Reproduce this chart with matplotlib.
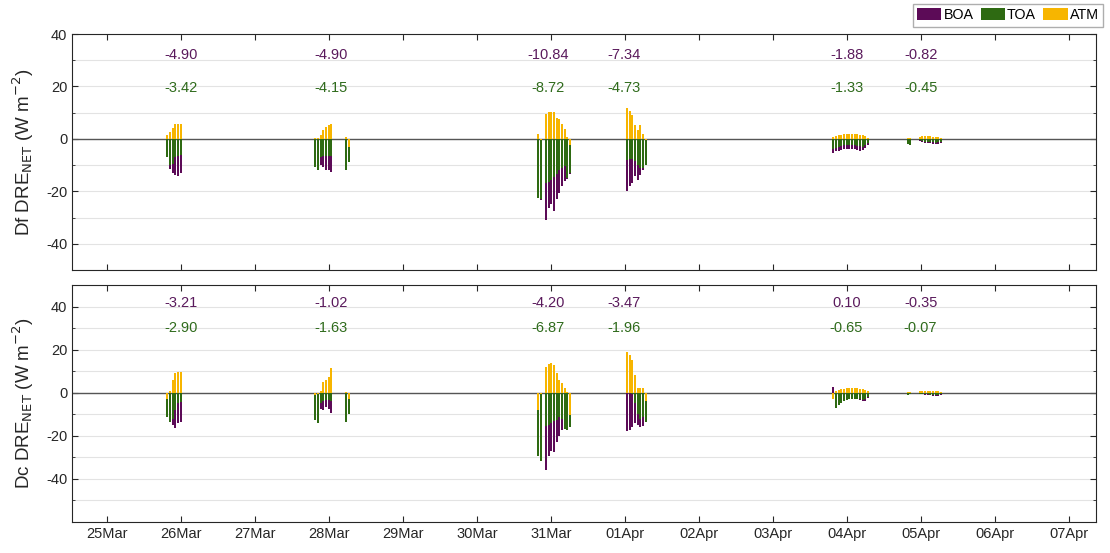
import numpy as np
import matplotlib
matplotlib.use('Agg')
import matplotlib.pyplot as plt
import matplotlib.dates as mdates
from matplotlib.patches import Patch
from matplotlib.ticker import MultipleLocator

plt.rcParams['font.family'] = ['Liberation Sans', 'DejaVu Sans']
plt.rcParams['axes.unicode_minus'] = False

# measurement times, days after 25 Mar 00:00
days = [
    0.815, 0.851, 0.887, 0.923, 0.959, 0.995,                      # 26Mar
    2.811, 2.847, 2.892, 2.923, 2.959, 2.996, 3.032, 3.230, 3.270,  # 28Mar
    5.824, 5.860, 5.932, 5.968, 6.004, 6.040, 6.076, 6.112,
    6.148, 6.184, 6.220, 6.256,                                     # 31Mar
    7.022, 7.058, 7.094, 7.130, 7.166, 7.202, 7.238, 7.274,         # 01Apr
    9.810, 9.846, 9.882, 9.918, 9.954, 9.990, 10.026, 10.062,
    10.098, 10.134, 10.170, 10.206, 10.242, 10.278,                 # 04Apr
    10.815, 10.851, 10.977, 11.013, 11.049, 11.085, 11.121, 11.157,
    11.193, 11.229, 11.265,                                         # 05Apr
]

# Df panel
df_boa = [
    -6.5, -11.5, -13.0, -13.8, -14.0, -13.0,
    -10.0, -11.5, -10.0, -10.6, -11.8, -12.0, -12.5, -11.0, -8.0,
    -21.0, -23.5, -31.0, -26.3, -25.0, -27.5, -23.0, -20.5, -18.0, -16.2, -15.2, -13.5,
    -20.0, -18.1, -16.9, -14.3, -15.6, -13.7, -11.8, -9.5,
    -5.2, -4.8, -4.5, -4.2, -4.0, -4.0, -3.8, -3.8, -4.0, -4.2, -4.5, -4.3, -3.5, -2.2,
    -1.5, -1.8, -0.8, -1.2, -1.4, -1.5, -1.7, -1.9, -2.0, -1.8, -1.4,
]
df_toa = [
    -7.0, -10.0, -9.5, -7.0, -6.5, -6.0,
    -10.6, -11.8, -7.0, -6.5, -6.5, -6.5, -6.5, -11.8, -8.7,
    -22.5, -23.0, -17.0, -16.5, -15.5, -14.5, -13.5, -12.0, -11.0, -10.5, -15.0, -13.0,
    -8.0, -7.5, -7.5, -8.5, -10.0, -11.0, -11.0, -10.0,
    -4.0, -3.5, -3.0, -2.8, -2.5, -2.5, -2.4, -2.4, -2.5, -2.6, -2.8, -3.0, -2.5, -1.5,
    -2.0, -2.2, -0.6, -0.9, -1.0, -1.0, -1.1, -1.3, -1.4, -1.3, -1.0,
]
df_atm = [
    1.5, 2.5, 4.2, 5.5, 5.5, 5.5,
    0.3, 0.2, 1.4, 3.3, 4.5, 5.2, 5.8, 0.8, -3.0,
    2.0, -0.5, 9.6, 10.2, 10.2, 10.4, 7.9, 7.4, 5.8, 3.9, 0.8, -2.4,
    11.7, 10.6, 9.2, 5.2, 3.3, 5.4, 2.0, -0.5,
    0.6, 1.0, 1.4, 1.6, 1.8, 1.8, 1.8, 1.8, 1.8, 1.7, 1.6, 1.4, 1.0, 0.5,
    0.3, 0.2, 0.9, 1.0, 1.0, 1.0, 1.0, 0.9, 0.8, 0.6, 0.4,
]

# Dc panel
dc_boa = [
    -9.0, -13.0, -15.0, -16.6, -14.0, -13.5,
    -11.0, -13.0, -7.4, -8.2, -6.6, -7.4, -9.2, -12.0, -9.0,
    -28.0, -31.5, -35.7, -29.2, -27.2, -27.7, -23.1, -20.0, -17.2, -15.0, -16.0, -14.0,
    -18.0, -17.2, -15.7, -14.2, -15.0, -16.0, -15.5, -11.0,
    2.8, -3.0, -4.0, -4.0, -3.5, -3.0, -2.5, -2.5, -2.5, -3.0, -3.5, -4.0, -3.8, -2.5,
    -0.8, -0.6, -0.5, -0.8, -1.0, -1.2, -1.3, -1.5, -1.6, -1.4, -1.2,
]
dc_toa = [
    -11.2, -13.5, -12.0, -8.0, -5.0, -4.5,
    -12.8, -14.0, -5.0, -4.0, -3.5, -3.5, -4.0, -13.5, -10.0,
    -29.5, -31.8, -15.5, -15.0, -14.0, -13.0, -12.5, -11.5, -12.0, -17.0, -17.5, -15.7,
    1.0, 0.5, -0.5, -5.0, -10.0, -12.0, -11.5, -13.4,
    0.0, -6.9, -5.8, -5.0, -4.0, -3.5, -3.0, -2.8, -2.8, -2.8, -3.0, -3.2, -3.0, -2.0,
    -1.0, -0.8, -0.4, -0.6, -0.7, -0.8, -0.9, -1.0, -1.1, -1.0, -0.8,
]
dc_atm = [
    -2.8, 1.0, 5.7, 9.0, 9.5, 9.5,
    -1.2, -0.5, 1.0, 4.9, 5.7, 7.2, 11.5, 0.5, -3.0,
    -8.0, -0.5, 12.0, 13.5, 13.8, 12.8, 9.0, 5.8, 4.3, 2.0, 0.5, -10.3,
    19.0, 17.4, 15.0, 8.2, 2.0, 2.0, 2.0, -4.0,
    -2.8, 1.0, 1.3, 1.5, 1.8, 2.0, 2.0, 2.0, 2.0, 2.0, 1.8, 1.6, 1.2, 0.6,
    0.2, 0.2, 0.6, 0.8, 0.9, 1.0, 1.0, 0.9, 0.8, 0.6, 0.4,
]

# event means printed above each day
label_days = [1.0, 3.03, 5.96, 6.99, 9.99, 10.99]
df_boa_mean = [-4.90, -4.90, -10.84, -7.34, -1.88, -0.82]
df_toa_mean = [-3.42, -4.15, -8.72, -4.73, -1.33, -0.45]
dc_boa_mean = [-3.21, -1.02, -4.20, -3.47, 0.10, -0.35]
dc_toa_mean = [-2.90, -1.63, -6.87, -1.96, -0.65, -0.07]

c_boa = '#5c0b57'
c_toa = '#2e6a12'
c_atm = '#f7b500'
t_boa = '#5a1a5c'
t_toa = '#2f6b1c'

t0 = mdates.date2num(np.datetime64('2019-03-25T00:00'))
t = t0 + np.array(days)
tl = t0 + np.array(label_days)
w = 0.027

fig = plt.figure(figsize=(11.10, 5.53), dpi=100)
ax1 = fig.add_axes([0.0649, 0.5118, 0.9225, 0.4267])
ax2 = fig.add_axes([0.0649, 0.0561, 0.9225, 0.4286])

panels = [
    (ax1, df_boa, df_toa, df_atm, df_boa_mean, df_toa_mean, (-50, 40), (32, 19.5),
     'Df DRE$_{\\mathrm{NET}}$ (W m$^{\\mathrm{-2}}$)'),
    (ax2, dc_boa, dc_toa, dc_atm, dc_boa_mean, dc_toa_mean, (-60, 50), (41.5, 30),
     'Dc DRE$_{\\mathrm{NET}}$ (W m$^{\\mathrm{-2}}$)'),
]

for ax, boa, toa, atm, mb, mt, ylim, ytxt, ylab in panels:
    ax.bar(t, boa, w, color=c_boa, zorder=3)
    ax.bar(t, toa, w, color=c_toa, zorder=3)
    ax.bar(t, atm, w, color=c_atm, zorder=3)
    ax.axhline(0, color='#555555', lw=1.0, zorder=2)

    for x, vb, vt in zip(tl, mb, mt):
        ax.text(x, ytxt[0], f'{vb:.2f}', ha='center', va='center',
                color=t_boa, fontsize=10.5)
        ax.text(x, ytxt[1], f'{vt:.2f}', ha='center', va='center',
                color=t_toa, fontsize=10.5)

    ax.set_ylim(*ylim)
    ax.set_xlim(t0 - 0.473, t0 + 13.36)
    ax.yaxis.set_minor_locator(MultipleLocator(10))
    ax.set_yticks([-40, -20, 0, 20, 40])
    ax.xaxis.set_major_locator(mdates.DayLocator())
    ax.xaxis.set_major_formatter(mdates.DateFormatter('%d%b'))
    ax.grid(True, which='both', axis='y', color='#e3e3e3', lw=0.8, zorder=0)
    ax.tick_params(which='both', direction='in', top=True, right=True,
                   labelsize=10.5, colors='#262626', length=4)
    ax.tick_params(which='minor', length=2.5)
    ax.tick_params(axis='x', which='minor', bottom=False, top=False)
    for s in ax.spines.values():
        s.set_color('#262626')
        s.set_linewidth(0.8)
    ax.set_ylabel(ylab, fontsize=13.5, color='#262626')
    ax.yaxis.set_label_coords(-0.035, 0.5)

ax1.tick_params(axis='x', labelbottom=False)

handles = [Patch(facecolor=c_boa, label='BOA'),
           Patch(facecolor=c_toa, label='TOA'),
           Patch(facecolor=c_atm, label='ATM')]
fig.legend(handles=handles, loc='upper right', ncol=3,
           bbox_to_anchor=(1103 / 1110, 1 - 4 / 553), fontsize=10.3,
           frameon=True, fancybox=False, edgecolor='#9a9a9a',
           handlelength=1.7, handleheight=0.9, handletextpad=0.15,
           columnspacing=0.5, borderpad=0.3, borderaxespad=0)

fig.savefig('out.png', dpi=100)
